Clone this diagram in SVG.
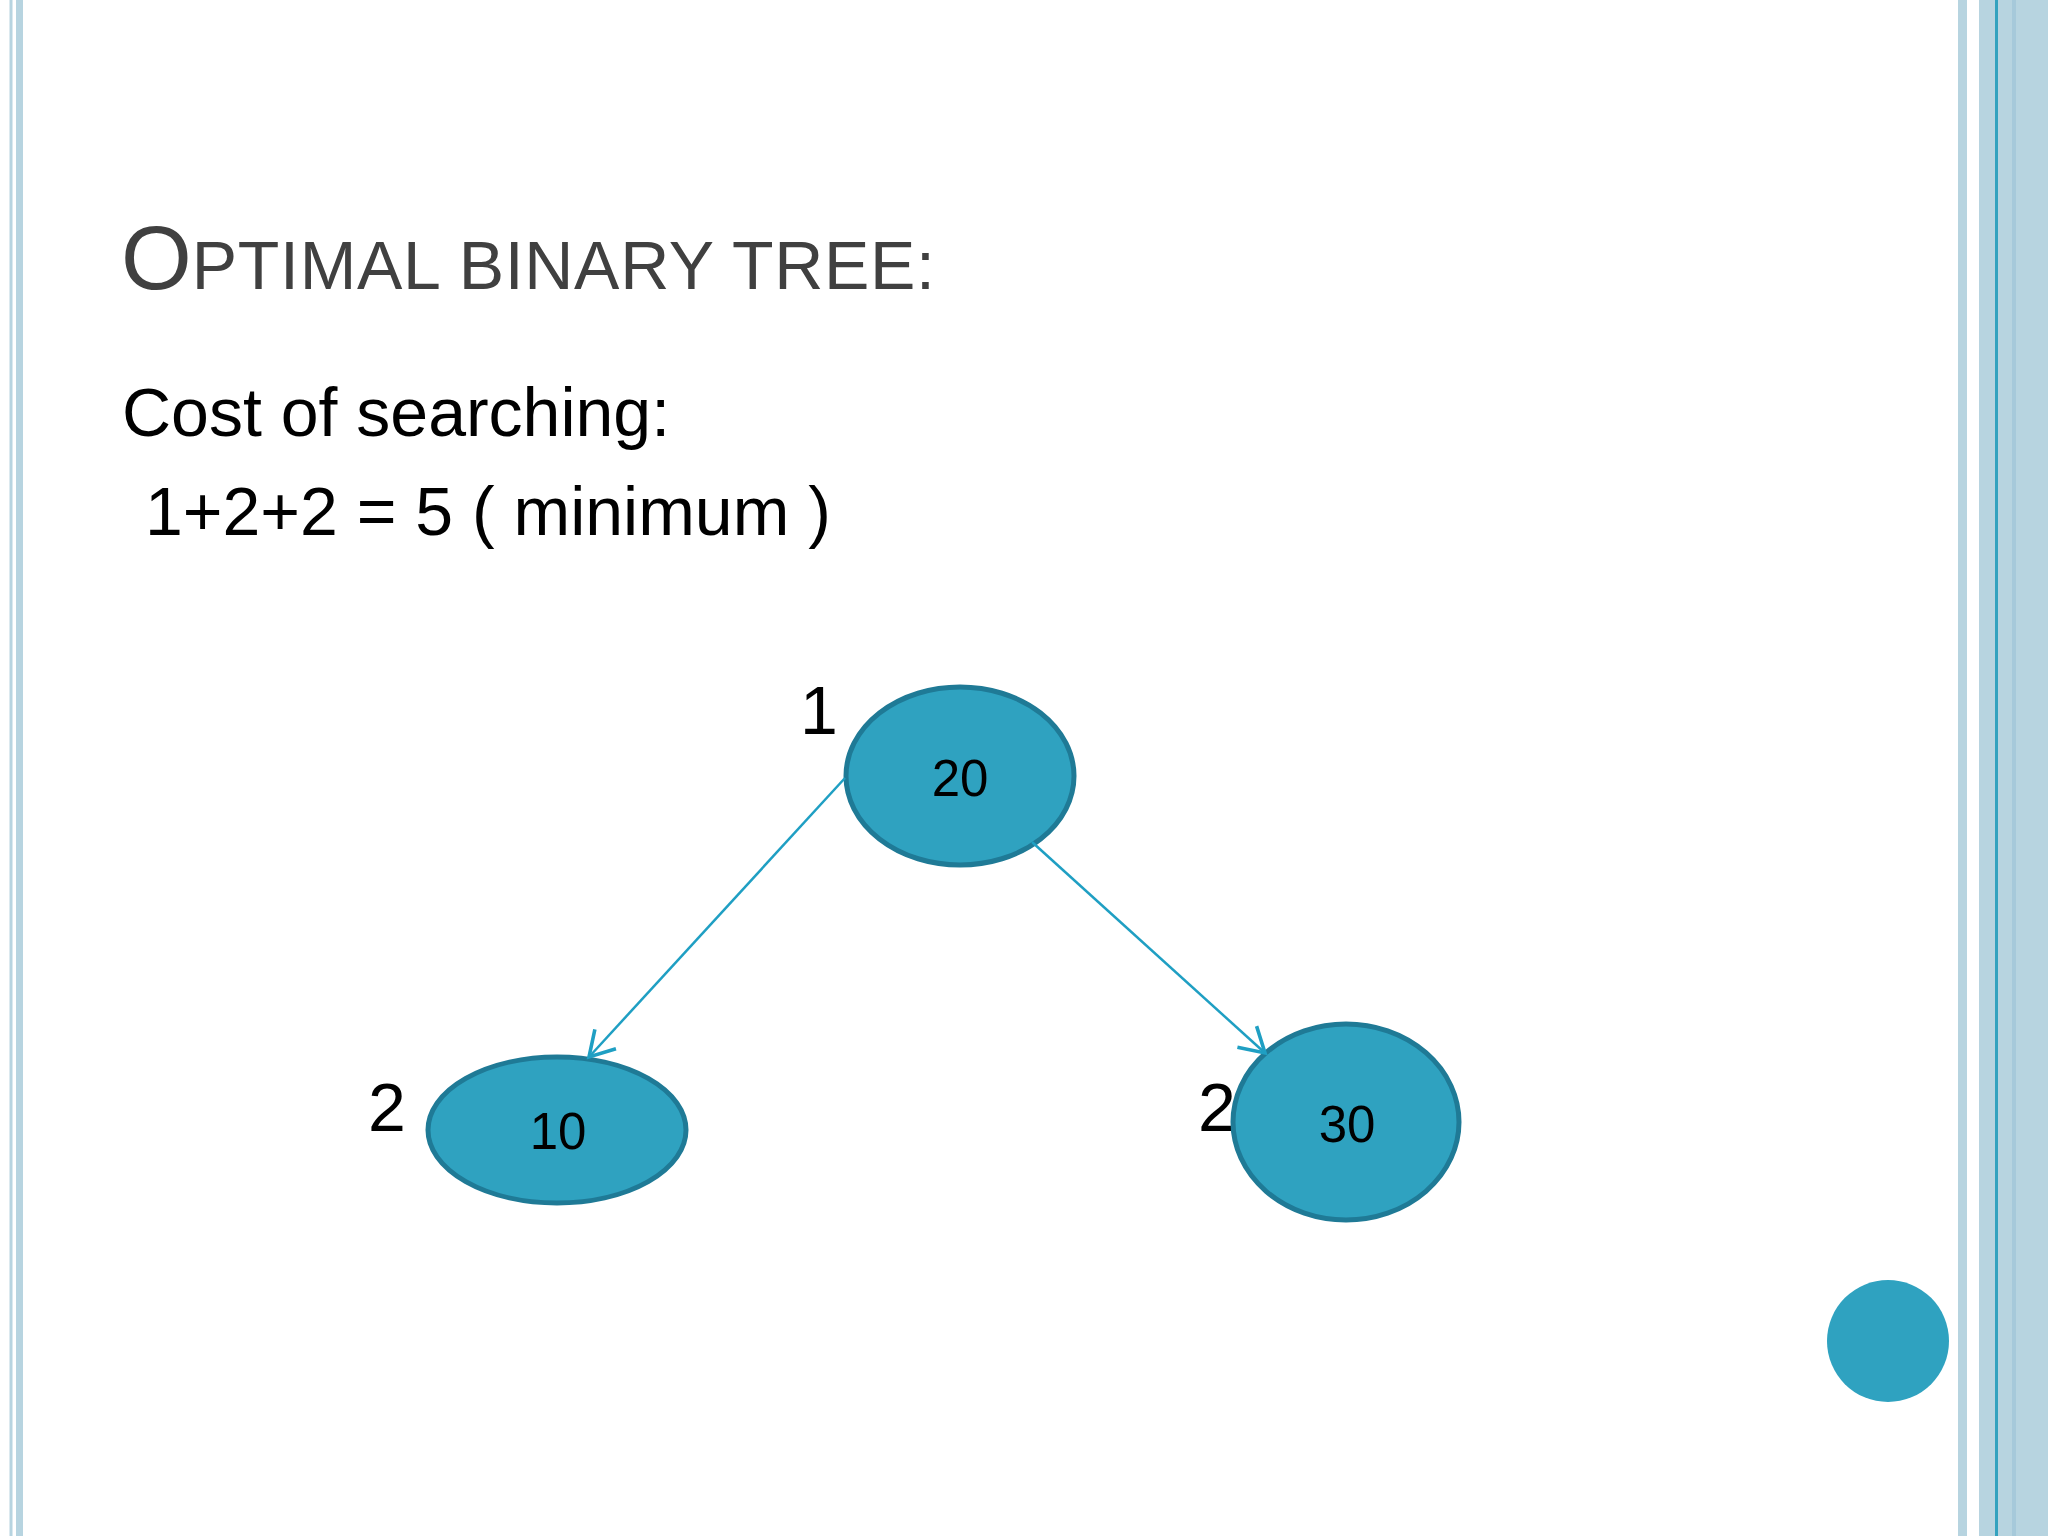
<svg xmlns="http://www.w3.org/2000/svg" width="2048" height="1536" viewBox="0 0 2048 1536">
<defs>
<style>
.title{font-family:"Liberation Sans",Arial,sans-serif;fill:#404040}
.body{font-family:"Liberation Sans",Arial,sans-serif;font-size:68px;fill:#000}
.lvl{font-family:"Liberation Sans",Arial,sans-serif;font-size:68px;fill:#000;text-anchor:middle}
.node{fill:#2fa2c0;stroke:#1f7a96;stroke-width:5}
.nlabel{font-family:"Liberation Sans",Arial,sans-serif;font-size:51px;fill:#000;text-anchor:middle}
.edge{stroke:#1f9fc3;stroke-width:2.5;fill:none;marker-end:url(#open)}
.band{fill:#b7d4e0}
</style>
<marker id="open" markerUnits="userSpaceOnUse" markerWidth="40" markerHeight="40" viewBox="-22 -14 26 28" refX="0" refY="0" orient="auto">
<path d="M -17 -10 L 0 0 L -17 10" fill="none" stroke="#1f9fc3" stroke-width="2.5"/>
</marker>
</defs>
<rect width="2048" height="1536" fill="#ffffff"/>
<g id="border-left">
<rect class="band" x="9.5" y="0" width="3" height="1536"/>
<rect class="band" x="16" y="0" width="7" height="1536"/>
</g>
<g id="border-right">
<rect class="band" x="1958" y="0" width="9" height="1536"/>
<rect class="band" x="1979" y="0" width="69" height="1536"/>
<rect x="2012" y="0" width="4" height="1536" fill="#a6c9da"/>
<rect x="1995" y="0" width="3" height="1536" fill="#33a2bf"/>
</g>
<g id="title">
<text class="title" x="121" y="289"><tspan font-size="91">O</tspan><tspan font-size="68" letter-spacing="0.7">PTIMAL BINARY TREE:</tspan></text>
</g>
<g id="body">
<text class="body" x="122" y="436">Cost of searching:</text>
<text class="body" x="126" y="535" xml:space="preserve"> 1+2+2 = 5 ( minimum )</text>
</g>
<g id="levels">
<text class="lvl" x="819" y="734">1</text>
<text class="lvl" x="387" y="1131">2</text>
<text class="lvl" x="1217" y="1131">2</text>
</g>
<g id="node-20">
<ellipse class="node" cx="960" cy="776" rx="114" ry="89"/>
<text class="nlabel" x="960" y="796">20</text>
</g>
<g id="node-10">
<ellipse class="node" cx="557" cy="1130" rx="129" ry="73"/>
<text class="nlabel" x="558" y="1149">10</text>
</g>
<g id="node-30">
<ellipse class="node" cx="1346" cy="1122" rx="113" ry="98"/>
<text class="nlabel" x="1347" y="1142">30</text>
</g>
<g id="connectors">
<line class="edge" x1="845" y1="778" x2="589" y2="1057"/>
<line class="edge" x1="1032" y1="842" x2="1265" y2="1053"/>
</g>
<g id="decor-circle">
<circle cx="1888" cy="1341" r="61" fill="#2fa2c0"/>
</g>
</svg>
